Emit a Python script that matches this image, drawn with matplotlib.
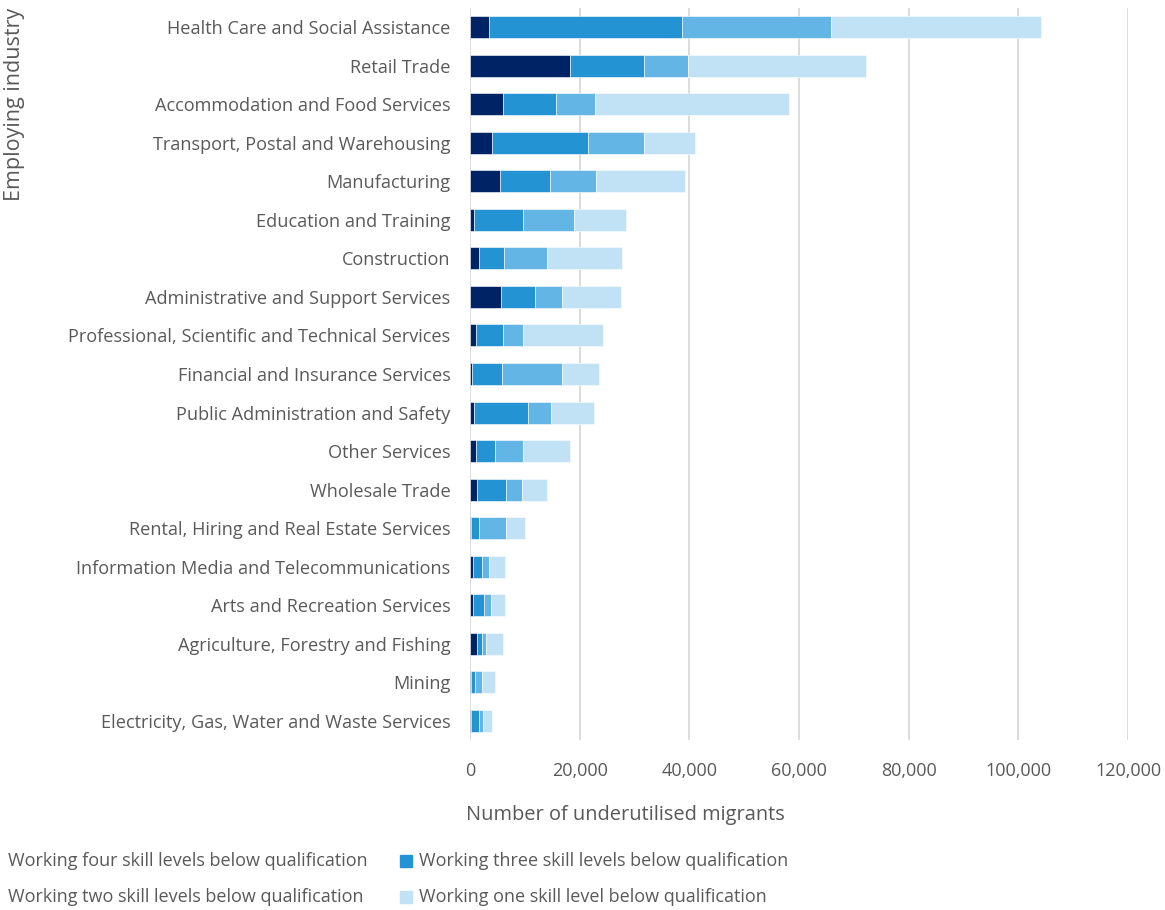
import matplotlib
matplotlib.use("Agg")
import matplotlib.pyplot as plt
from matplotlib.patches import Rectangle
import numpy as np

# Industries, top to bottom
industries = [
    "Health Care and Social Assistance",
    "Retail Trade",
    "Accommodation and Food Services",
    "Transport, Postal and Warehousing",
    "Manufacturing",
    "Education and Training",
    "Construction",
    "Administrative and Support Services",
    "Professional, Scientific and Technical Services",
    "Financial and Insurance Services",
    "Public Administration and Safety",
    "Other Services",
    "Wholesale Trade",
    "Rental, Hiring and Real Estate Services",
    "Information Media and Telecommunications",
    "Arts and Recreation Services",
    "Agriculture, Forestry and Fishing",
    "Mining",
    "Electricity, Gas, Water and Waste Services",
]

# underutilised migrants by gap between skill level of job and qualification
four_below = [3400, 18200, 6000, 4100, 5400, 700, 1600, 5650, 1100, 300, 800, 1100, 1300, 200, 500, 500, 1200, 100, 200]
three_below = [35200, 13600, 9700, 17400, 9200, 9000, 4600, 6150, 4900, 5600, 9800, 3500, 5200, 1400, 1600, 2100, 900, 900, 1400]
two_below = [27300, 7900, 7100, 10300, 8300, 9300, 7800, 5000, 3700, 10800, 4200, 5100, 2900, 5000, 1400, 1300, 900, 1100, 700]
one_below = [38200, 32500, 35400, 9300, 16400, 9400, 13800, 10700, 14500, 6800, 7900, 8600, 4600, 3400, 2900, 2500, 3000, 2500, 1800]

series_names = [
    "Working four skill levels below qualification",
    "Working three skill levels below qualification",
    "Working two skill levels below qualification",
    "Working one skill level below qualification",
]
colors = ["#002366", "#2393d3", "#62b5e5", "#c1e1f5"]

xticks = [0, 20000, 40000, 60000, 80000, 100000, 120000]

plt.rcParams["font.family"] = ["Open Sans", "DejaVu Sans"]
txt = "#595959"

fig = plt.figure(figsize=(11.65, 9.1), dpi=100)
ax = fig.add_axes([470 / 1165, 170 / 910, 658 / 1165, 732 / 910])

y = np.arange(len(industries))
left = np.zeros(len(industries))
for vals, name, c in zip([four_below, three_below, two_below, one_below], series_names, colors):
    ax.barh(y, vals, left=left, height=0.57, color=c, label=name, zorder=3,
            edgecolor="white", linewidth=0.4)
    left += np.array(vals)

ax.set_ylim(len(industries) - 0.5, -0.5)
ax.set_xlim(0, 120000)
ax.set_yticks(y)
ax.set_yticklabels(industries, fontsize=13.1, color=txt)
ax.set_xticks(xticks)
ax.set_xticklabels([f"{v:,}" for v in xticks], fontsize=13, color=txt)
ax.tick_params(axis="y", length=0, pad=14)
ax.tick_params(axis="x", length=0, pad=16)
ax.grid(axis="x", color="#d9d9d9", linewidth=1.3, zorder=0)
for s in ax.spines.values():
    s.set_visible(False)

fig.text(466 / 1165, 1 - 815 / 910, "Number of underutilised migrants", fontsize=14.4,
         color=txt, ha="left", va="center")
fig.text(15 / 1165, 1 - 8 / 910, "Employing industry", fontsize=15.5, color=txt,
         rotation=90, ha="center", va="top")

# legend laid out by hand in two columns; left column squares fall off the edge
legend_pos = [(8, 861), (419, 861), (8, 897), (419, 897)]
for (px, py), name, c in zip(legend_pos, series_names, colors):
    fig.patches.append(Rectangle(((px - 19) / 1165, 1 - (py + 6) / 910), 12 / 1165, 12 / 910,
                                 transform=fig.transFigure, color=c, figure=fig,
                                 clip_on=False))
    fig.text(px / 1165, 1 - py / 910, name, fontsize=13, color=txt, ha="left", va="center")

# the left legend column starts right at the page edge, hide whatever spills past it
fig.patches.append(Rectangle((0, 0), 3 / 1165, 120 / 910, transform=fig.transFigure,
                             color="white", figure=fig, zorder=5))

fig.savefig("out.png", dpi=100)
